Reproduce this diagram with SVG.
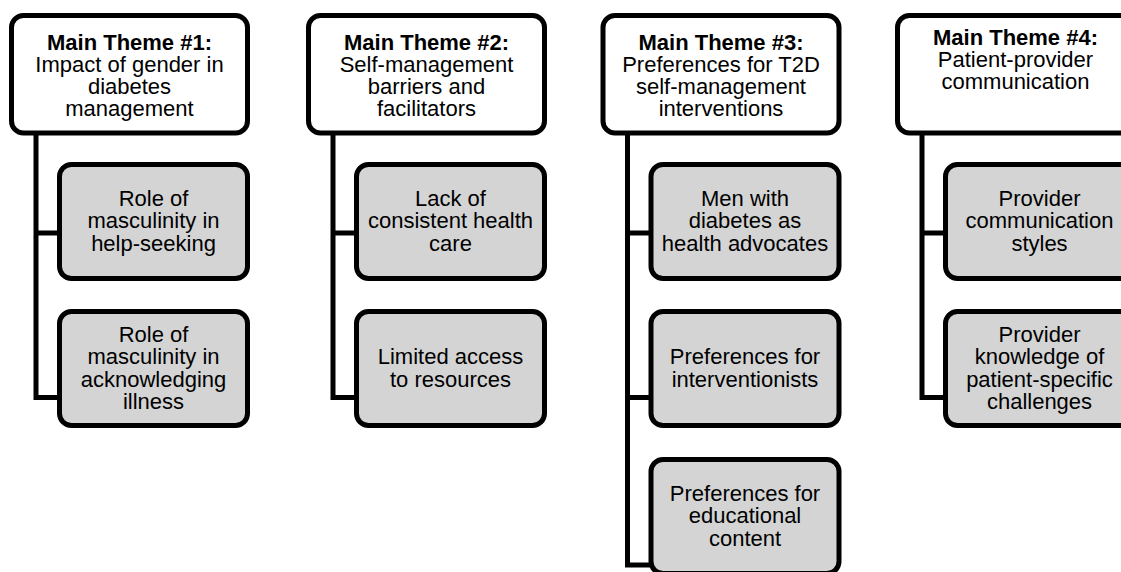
<svg xmlns="http://www.w3.org/2000/svg" width="1121" height="572" viewBox="0 0 1121 572">
<style>
.main{fill:#ffffff;stroke:#000;stroke-width:5}
.sub{fill:#d4d4d4;stroke:#000;stroke-width:5}
.conn{fill:none;stroke:#000;stroke-width:5;stroke-linejoin:miter;stroke-linecap:butt}
text{font-family:"Liberation Sans",Arial,sans-serif;font-size:22px;fill:#000;text-anchor:middle}
.b{font-weight:bold}
</style>
<rect width="1121" height="572" fill="#fff"/>
<g id="connectors">
<path class="conn" d="M36 133 V397.5 H59 M36 233 H59"/>
<path class="conn" d="M333 133 V397.5 H356 M333 233 H356"/>
<path class="conn" d="M627.5 133 V565 H650 M627.5 233 H650 M627.5 397.5 H650"/>
<path class="conn" d="M922 133 V397.5 H945 M922 233 H945"/>
</g>
<g id="theme1">
<rect class="main" x="11.5" y="15.5" width="236" height="117.5" rx="12"/>
<text x="129.5"><tspan class="b" x="129.5" y="50">Main Theme #1:</tspan><tspan x="129.5" y="72">Impact of gender in</tspan><tspan x="129.5" y="94">diabetes</tspan><tspan x="129.5" y="116">management</tspan></text>
</g>
<g id="t1s1">
<rect class="sub" x="59.5" y="164.5" width="188" height="114" rx="12"/>
<text><tspan x="153.5" y="205.5">Role of</tspan><tspan x="153.5" y="228">masculinity in</tspan><tspan x="153.5" y="250.5">help-seeking</tspan></text>
</g>
<g id="t1s2">
<rect class="sub" x="59.5" y="311.5" width="188" height="114" rx="12"/>
<text><tspan x="153.5" y="341.5">Role of</tspan><tspan x="153.5" y="364">masculinity in</tspan><tspan x="153.5" y="386.5">acknowledging</tspan><tspan x="153.5" y="409">illness</tspan></text>
</g>
<g id="theme2">
<rect class="main" x="308.5" y="15.5" width="236" height="117.5" rx="12"/>
<text><tspan class="b" x="426.5" y="50">Main Theme #2:</tspan><tspan x="426.5" y="72">Self-management</tspan><tspan x="426.5" y="94">barriers and</tspan><tspan x="426.5" y="116">facilitators</tspan></text>
</g>
<g id="t2s1">
<rect class="sub" x="356.5" y="164.5" width="188" height="114" rx="12"/>
<text><tspan x="450.5" y="205.5">Lack of</tspan><tspan x="450.5" y="228">consistent health</tspan><tspan x="450.5" y="250.5">care</tspan></text>
</g>
<g id="t2s2">
<rect class="sub" x="356.5" y="311.5" width="188" height="114" rx="12"/>
<text><tspan x="450.5" y="363.5">Limited access</tspan><tspan x="450.5" y="386.5">to resources</tspan></text>
</g>
<g id="theme3">
<rect class="main" x="603" y="15.5" width="236" height="117.5" rx="12"/>
<text><tspan class="b" x="721" y="50">Main Theme #3:</tspan><tspan x="721" y="72">Preferences for T2D</tspan><tspan x="721" y="94">self-management</tspan><tspan x="721" y="116">interventions</tspan></text>
</g>
<g id="t3s1">
<rect class="sub" x="651" y="164.5" width="188" height="114" rx="12"/>
<text><tspan x="745" y="205.5">Men with</tspan><tspan x="745" y="228">diabetes as</tspan><tspan x="745" y="250.5">health advocates</tspan></text>
</g>
<g id="t3s2">
<rect class="sub" x="651" y="311.5" width="188" height="114" rx="12"/>
<text><tspan x="745" y="363.5">Preferences for</tspan><tspan x="745" y="386.5">interventionists</tspan></text>
</g>
<g id="t3s3">
<rect class="sub" x="651" y="459.5" width="188" height="114" rx="12"/>
<text><tspan x="745" y="500.5">Preferences for</tspan><tspan x="745" y="523">educational</tspan><tspan x="745" y="545.5">content</tspan></text>
</g>
<g id="theme4">
<rect class="main" x="897.5" y="15.5" width="236" height="117.5" rx="12"/>
<text><tspan class="b" x="1015.5" y="45">Main Theme #4:</tspan><tspan x="1015.5" y="67">Patient-provider</tspan><tspan x="1015.5" y="89">communication</tspan></text>
</g>
<g id="t4s1">
<rect class="sub" x="945.5" y="164.5" width="188" height="114" rx="12"/>
<text><tspan x="1039.5" y="205.5">Provider</tspan><tspan x="1039.5" y="228">communication</tspan><tspan x="1039.5" y="250.5">styles</tspan></text>
</g>
<g id="t4s2">
<rect class="sub" x="945.5" y="311.5" width="188" height="114" rx="12"/>
<text><tspan x="1039.5" y="341.5">Provider</tspan><tspan x="1039.5" y="364">knowledge of</tspan><tspan x="1039.5" y="386.5">patient-specific</tspan><tspan x="1039.5" y="409">challenges</tspan></text>
</g>
</svg>
